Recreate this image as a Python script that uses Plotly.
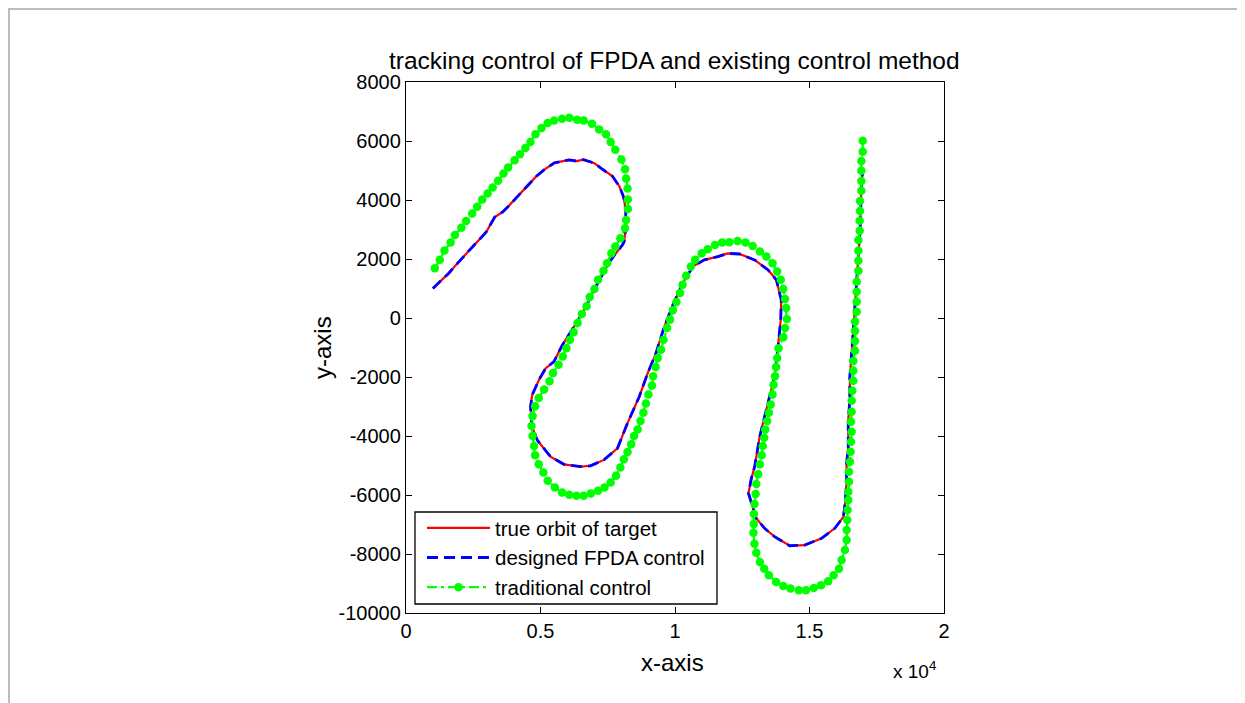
import plotly.graph_objects as go

# ---- data (x in raw units, axis shows x 10^4) ----
true_x = [1000, 1590, 1920, 2250, 2460, 2830, 2990, 3300, 3600, 3790, 4200, 4460, 4840, 5130, 5520,
          6060, 6340, 6600, 7000, 7260, 7680, 7940, 8090, 8170, 8170, 8110, 8040, 7780, 7520, 7260,
          6990, 6560, 6180, 5810, 5500, 5190, 4940, 4690, 4630, 4690, 4880, 5370, 5870, 6490, 6860,
          7360, 7860, 8230, 8670, 8980, 9290, 9600, 9970, 10290, 10660, 11090, 11590, 11960, 12400,
          12960, 13460, 13770, 13950, 13930, 13830, 13700, 13430, 13150, 12960, 12840, 12730, 12840,
          13020, 13330, 13700, 14260, 14820, 15450, 15940, 16260, 16340, 16380, 16380, 16440, 16440,
          16500, 16500, 16630, 16750, 16880, 16940, 16990]
true_y = [1000, 1520, 1860, 2170, 2400, 2760, 2930, 3420, 3600, 3770, 4170, 4400, 4800, 5020, 5260,
          5360, 5320, 5370, 5250, 5070, 4800, 4450, 4100, 3660, 3050, 2590, 2470, 2170, 1840, 1400,
          950, 160, -410, -920, -1480, -1710, -2100, -2610, -3010, -3690, -4140, -4700, -4960, -5040, -5010,
          -4810, -4420, -3570, -2670, -1880, -1200, -300, 550, 1180, 1740, 1970, 2080, 2190, 2170,
          1970, 1630, 1290, 610, -70, -970, -1990, -2980, -4020, -5040, -5430, -5940, -6280,
          -6790, -7130, -7410, -7720, -7700, -7470, -7130, -6740, -6170, -5490, -4930, -4360, -3460,
          -2780, -1990, -410, 1290, 2980, 4680, 5050]

# designed FPDA control follows the true orbit (visually identical)
fpda_x = list(true_x)
fpda_y = list(true_y)

trad_x = [1070, 1257, 1431, 1658, 1818, 2059, 2233, 2460, 2647, 2834, 3035, 3222, 3423, 3623, 3797,
          4038, 4238, 4439, 4626, 4813, 5040, 5268, 5508, 5803, 6070, 6364, 6605, 6912, 7180, 7434,
          7608, 7781, 8009, 8142, 8182, 8236, 8249, 8249, 8182, 8142, 7969, 7781, 7634, 7474, 7340,
          7140, 7006, 6832, 6712, 6538, 6377, 6230,
          6097, 5963, 5829, 5669, 5468, 5335, 5134, 4934, 4800, 4706, 4666, 4706, 4760, 4800, 4934,
          5107, 5268, 5535, 5803, 6070, 6337, 6605, 6872, 7140, 7380, 7608, 7808, 7969, 8102, 8236,
          8370, 8477, 8610, 8717, 8824, 8918, 9011, 9145, 9185, 9279, 9359, 9479, 9573,
          9707, 9814, 9921, 10054, 10188, 10281, 10415, 10589, 10749, 10990, 11217, 11485, 11752,
          12020, 12327, 12621, 12889, 13156, 13397, 13624, 13798, 13932, 14025, 14092, 14132, 14159,
          14092, 14025,
          13851, 13798, 13758, 13718, 13664, 13624, 13557, 13490, 13424, 13357, 13317, 13263, 13223,
          13156, 13089, 13022, 12996, 12955, 12929, 12929, 12915, 12955, 13022, 13156, 13317, 13490,
          13758, 14025, 14293, 14600, 14867, 15161, 15429, 15696, 15897, 16097,
          16193, 16317, 16380, 16380, 16404, 16416, 16442, 16442, 16466, 16466, 16503, 16528, 16540,
          16566, 16540, 16566,
          16567, 16592, 16629, 16629, 16629, 16692, 16692, 16692, 16692, 16754, 16754, 16754, 16754,
          16816, 16816, 16816, 16816, 16866, 16866, 16878, 16878, 16928, 16928, 16928, 16928, 16978,
          16978]
trad_y = [1689, 1971, 2286, 2556, 2815, 3062, 3288, 3546, 3771, 4019, 4222, 4424, 4649, 4897, 5100,
          5347, 5550, 5764, 5966, 6225, 6439, 6608, 6698, 6754, 6788, 6720, 6698, 6585, 6394, 6225,
          5966, 5707, 5370, 5043, 4728, 4390, 4019, 3693, 3321, 3040, 2702, 2421, 2196, 1858, 1599,
          1295, 980, 710, 395, 136, -168, -483,
          -741, -1022, -1303, -1584, -1865, -2146, -2427, -2708, -2989, -3326, -3664, -4001, -4338, -4653, -4956,
          -5237, -5518, -5743, -5912, -5990, -6024, -6024, -5945, -5855, -5743, -5574, -5350, -5069, -4788, -4540,
          -4282, -4001, -3776, -3495, -3214, -2899, -2596, -2292, -1978, -1663, -1359, -1078, -741,
          -337, -55, 260, 541, 845, 1127, 1430, 1745, 1971, 2196, 2331, 2477, 2556,
          2567, 2612, 2556, 2443, 2252, 2083, 1858, 1577, 1295, 980, 643, 339, -33,
          -337, -652,
          -1022, -1359, -1663, -1978, -2259, -2596, -2933, -3214, -3495, -3776, -4057, -4338, -4653,
          -4956, -5293, -5631, -5968, -6305, -6642, -6979, -7283, -7654, -7957, -8272, -8497, -8722,
          -8946, -9081, -9171, -9227, -9227, -9149, -9059, -8924, -8722, -8497,
          -8204, -7865, -7526, -7187, -6848, -6509, -6170, -5889, -5550, -5211, -4872, -4533, -4194,
          -3855, -3516, -3177,
          -2803, -2464, -2125, -1786, -1458, -1108, -780, -441, -125, 214, 553, 892, 1231,
          1603, 1942, 2281, 2644, 2959, 3298, 3627, 3966, 4315, 4644, 4993, 5322, 5637,
          6010]

x_tickvals = [0, 5000, 10000, 15000, 20000]
x_ticktext = ["0", "0.5", "1", "1.5", "2"]
y_tickvals = [-10000, -8000, -6000, -4000, -2000, 0, 2000, 4000, 6000, 8000]
y_ticktext = ["-10000", "-8000", "-6000", "-4000", "-2000", "0", "2000", "4000", "6000", "8000"]

FONT = "Liberation Sans, Arial, sans-serif"

fig = go.Figure()
fig.add_trace(go.Scatter(x=true_x, y=true_y, mode="lines", name="true orbit of target",
                         line=dict(color="#ff0000", width=2.2)))
fig.add_trace(go.Scatter(x=fpda_x, y=fpda_y, mode="lines", name="designed FPDA control",
                         line=dict(color="#0000ff", width=2.8, dash="11px,6px")))
fig.add_trace(go.Scatter(x=trad_x, y=trad_y, mode="lines+markers", name="traditional control",
                         line=dict(color="#00ff00", width=2.2, dash="10px,4px,3px,4px"),
                         marker=dict(color="#00ff00", size=8.5, symbol="circle")))

# page offset: the html body has an 8 px margin
OFF = 8
W, H = 1245 - OFF, 703 - OFF
L, R, T, B = 406 - OFF, 944 - OFF, 82 - OFF, 613 - OFF
pw, ph = R - L, B - T

def px(xp):  # page pixel -> paper
    return (xp - OFF - L) / pw

def py(yp):
    return (B - (yp - OFF)) / ph

fig.update_layout(
    width=W, height=H,
    margin=dict(l=L, r=W - R, t=T, b=H - B, pad=0),
    paper_bgcolor="white", plot_bgcolor="white",
    font=dict(family=FONT, color="black", size=20),
    showlegend=True,
    legend=dict(x=px(422), y=py(508), xanchor="left", yanchor="top",
                borderwidth=0, bgcolor="rgba(0,0,0,0)",
                font=dict(family=FONT, size=20.5, color="black"),
                itemwidth=63, tracegroupgap=0),
    xaxis=dict(range=[0, 20000], tickvals=x_tickvals, ticktext=x_ticktext,
               ticks="inside", ticklen=6, tickwidth=1, tickcolor="black",
               showline=True, linecolor="black", linewidth=1.3, mirror="ticks",
               showgrid=False, zeroline=False, tickfont=dict(size=20, family=FONT)),
    yaxis=dict(range=[-10000, 8000], tickvals=y_tickvals, ticktext=y_ticktext,
               ticks="inside", ticklen=6, tickwidth=1, tickcolor="black",
               showline=True, linecolor="black", linewidth=1.3, mirror="ticks",
               showgrid=False, zeroline=False, tickfont=dict(size=20, family=FONT)),
    annotations=[
        dict(text="tracking control of FPDA and existing control method", xref="paper", yref="paper",
             x=px(674), y=py(60), xanchor="center", yanchor="middle", showarrow=False,
             font=dict(size=24.5, family=FONT, color="black")),
        dict(text="x-axis", xref="paper", yref="paper", x=px(672), y=py(662),
             xanchor="center", yanchor="middle", showarrow=False,
             font=dict(size=24, family=FONT, color="black")),
        dict(text="y-axis", xref="paper", yref="paper", x=px(322), y=py(348),
             xanchor="center", yanchor="middle", showarrow=False, textangle=-90,
             font=dict(size=24, family=FONT, color="black")),
        dict(text="x 10<sup>4</sup>", xref="paper", yref="paper", x=px(914), y=py(670),
             xanchor="center", yanchor="middle", showarrow=False,
             font=dict(size=19, family=FONT, color="black")),
    ],
    shapes=[
        # outer light-grey frame of the figure
        dict(type="rect", xref="paper", yref="paper", x0=px(9), x1=px(1243.5), y0=py(712), y1=py(9),
             line=dict(color="#bdbdbd", width=2), fillcolor="rgba(0,0,0,0)", layer="below"),
        # legend box
        dict(type="rect", xref="paper", yref="paper", x0=px(415), x1=px(717), y0=py(604), y1=py(512),
             line=dict(color="black", width=1.3), fillcolor="white", layer="above"),
    ],
)

fig.write_html("out.html")
